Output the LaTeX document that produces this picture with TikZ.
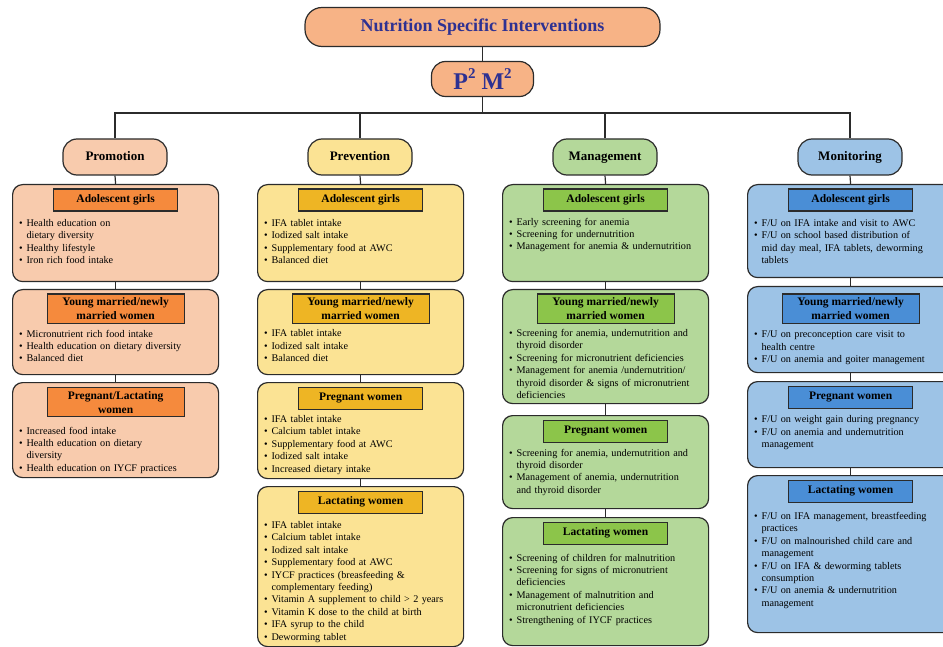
\documentclass[tikz,border=0pt]{standalone}
\usepackage{fontspec}
\setmainfont{Liberation Serif}
\usetikzlibrary{positioning,calc}

\definecolor{titlefill}{HTML}{F7B386}
\definecolor{titleblue}{HTML}{2E3192}
\definecolor{promfill}{HTML}{F8CBAD}
\definecolor{promhead}{HTML}{F58A3D}
\definecolor{prevfill}{HTML}{FBE394}
\definecolor{prevhead}{HTML}{EEB524}
\definecolor{mgmtfill}{HTML}{B4D89A}
\definecolor{mgmthead}{HTML}{8CC54A}
\definecolor{monfill}{HTML}{9DC3E6}
\definecolor{monhead}{HTML}{4A8ED6}
\definecolor{edge}{HTML}{2B2B2B}

% bullet item with hanging indent
\newcommand{\itm}[1]{\noindent\hangindent=7.5pt\hangafter=1\hbox to 7.5pt{\textbullet\hfil}#1\par}

\begin{document}
\begin{tikzpicture}[x=1pt, y=-1pt,
  conn/.style={draw=edge, line width=1.2pt},
  titlebox/.style={draw=edge, line width=1.2pt, fill=titlefill, text=titleblue, rounded corners=17pt},
  catbox/.style={draw=edge, line width=1.2pt, fill=#1, rounded corners=14pt, minimum width=104pt, minimum height=36pt, text height=9.5pt, text depth=2.5pt, font=\fontsize{13}{15}\selectfont\bfseries},
  panel/.style={draw=edge, line width=1.2pt, fill=#1, rounded corners=10pt, anchor=north west, minimum width=206pt, inner sep=0pt},
  hdr/.style={draw=edge, line width=1.2pt, fill=#1, minimum width=124pt, minimum height=22pt, inner sep=1pt, align=center, font=\fontsize{11.5}{14}\selectfont\bfseries},
  hdrtwo/.style={hdr=#1, minimum width=137pt, minimum height=29pt},
  body/.style={text width=193pt, inner sep=0pt, align=left, font=\fontsize{10.2}{12.4}\selectfont}
]
\useasboundingbox (0,0) rectangle (943,647);

% ================= TOP =================
\node[titlebox, minimum width=355pt, minimum height=39pt, font=\fontsize{18}{20}\selectfont\bfseries] (title) at (482.5,27) {Nutrition Specific Interventions};
\node[titlebox, rounded corners=14pt, minimum width=102pt, minimum height=35pt, font=\fontsize{24}{26}\selectfont\bfseries] (pm) at (482.5,79)
  {P\raisebox{0.42em}{\fontsize{15}{15}\selectfont 2} M\raisebox{0.42em}{\fontsize{15}{15}\selectfont 2}};
\coordinate (bus) at (482.5,113);

\node[catbox=promfill] (prom) at (115,157) {Promotion};
\node[catbox=prevfill] (prev) at (360,157) {Prevention};
\node[catbox=mgmtfill] (mgmt) at (605,157) {Management};
\node[catbox=monfill]  (mon)  at (850,157) {Monitoring};

\draw[conn] (title.south) -- (pm.north);
\draw[conn] (pm.south) -- (bus);
\foreach \c in {prom,prev,mgmt,mon}
  \draw[conn] (bus) -| (\c.north);

% ================= PROMOTION =================
\node[panel=promfill, minimum height=97pt] (proA) at (12,184) {};
\node[hdr=promhead, below=4.5pt of proA.north] (proAh) {Adolescent girls};
\node[body, below=7.5pt of proAh] (proAb) {\itm{Health education on\newline dietary diversity}\itm{Healthy lifestyle}\itm{Iron rich food intake}};

\node[panel=promfill, minimum height=85pt] (proB) at (12,289) {};
\node[hdrtwo=promhead, below=4.5pt of proB.north] (proBh) {Young married/newly\\married women};
\node[body, below=6pt of proBh] (proBb) {\itm{Micronutrient rich food intake}\itm{Health education on dietary diversity}\itm{Balanced diet}};

\node[panel=promfill, minimum height=95pt] (proC) at (12,382) {};
\node[hdrtwo=promhead, below=5pt of proC.north] (proCh) {Pregnant/Lactating\\women};
\node[body, below=9.5pt of proCh] (proCb) {\itm{Increased food intake}\itm{Health education on dietary\newline diversity}\itm{Health education on IYCF practices}};

\draw[conn] (prom.south) -- (proA.north);
\draw[conn] (proA.south) -- (proB.north);
\draw[conn] (proB.south) -- (proC.north);

% ================= PREVENTION =================
\node[panel=prevfill, minimum height=97pt] (preA) at (257,184) {};
\node[hdr=prevhead, below=4.5pt of preA.north] (preAh) {Adolescent girls};
\node[body, below=7.5pt of preAh] (preAb) {\itm{IFA tablet intake}\itm{Iodized salt intake}\itm{Supplementary food at AWC}\itm{Balanced diet}};

\node[panel=prevfill, minimum height=85pt] (preB) at (257,289) {};
\node[hdrtwo=prevhead, below=4.5pt of preB.north] (preBh) {Young married/newly\\married women};
\node[body, below=6pt of preBh] (preBb) {\itm{IFA tablet intake}\itm{Iodized salt intake}\itm{Balanced diet}};

\node[panel=prevfill, minimum height=96pt] (preC) at (257,382) {};
\node[hdr=prevhead, below=4.5pt of preC.north] (preCh) {Pregnant women};
\node[body, below=5.5pt of preCh] (preCb) {\itm{IFA tablet intake}\itm{Calcium tablet intake}\itm{Supplementary food at AWC}\itm{Iodized salt intake}\itm{Increased dietary intake}};

\node[panel=prevfill, minimum height=160pt] (preD) at (257,486) {};
\node[hdr=prevhead, below=4.5pt of preD.north] (preDh) {Lactating women};
\node[body, below=7.5pt of preDh] (preDb) {\itm{IFA tablet intake}\itm{Calcium tablet intake}\itm{Iodized salt intake}\itm{Supplementary food at AWC}\itm{IYCF practices (breasfeeding \&\newline complementary feeding)}\itm{Vitamin A supplement to child > 2 years}\itm{Vitamin K dose to the child at birth}\itm{IFA syrup to the child}\itm{Deworming tablet}};

\draw[conn] (prev.south) -- (preA.north);
\draw[conn] (preA.south) -- (preB.north);
\draw[conn] (preB.south) -- (preC.north);
\draw[conn] (preC.south) -- (preD.north);

% ================= MANAGEMENT =================
\node[panel=mgmtfill, minimum height=97pt] (manA) at (502,184) {};
\node[hdr=mgmthead, below=4.5pt of manA.north] (manAh) {Adolescent girls};
\node[body, below=6pt of manAh] (manAb) {\itm{Early screening for anemia}\itm{Screening for undernutrition}\itm{Management for anemia \& undernutrition}};

\node[panel=mgmtfill, minimum height=114pt] (manB) at (502,289) {};
\node[hdrtwo=mgmthead, below=4.5pt of manB.north] (manBh) {Young married/newly\\married women};
\node[body, below=5.5pt of manBh] (manBb) {\itm{Screening for anemia, undernutrition and\newline thyroid disorder}\itm{Screening for micronutrient deficiencies}\itm{Management for anemia /undernutrition/\newline thyroid disorder \& signs of micronutrient\newline deficiencies}};

\node[panel=mgmtfill, minimum height=93pt] (manC) at (502,415) {};
\node[hdr=mgmthead, below=4.5pt of manC.north] (manCh) {Pregnant women};
\node[body, below=6pt of manCh] (manCb) {\itm{Screening for anemia, undernutrition and\newline thyroid disorder}\itm{Management of anemia, undernutrition\newline and thyroid disorder}};

\node[panel=mgmtfill, minimum height=128pt] (manD) at (502,517) {};
\node[hdr=mgmthead, below=4.5pt of manD.north] (manDh) {Lactating women};
\node[body, below=9pt of manDh] (manDb) {\itm{Screening of children for malnutrition}\itm{Screening for signs of micronutrient\newline deficiencies}\itm{Management of malnutrition and\newline micronutrient deficiencies}\itm{Strengthening of IYCF practices}};

\draw[conn] (mgmt.south) -- (manA.north);
\draw[conn] (manA.south) -- (manB.north);
\draw[conn] (manB.south) -- (manC.north);
\draw[conn] (manC.south) -- (manD.north);

% ================= MONITORING =================
\node[panel=monfill, minimum height=93pt] (monA) at (747,184) {};
\node[hdr=monhead, below=4.5pt of monA.north] (monAh) {Adolescent girls};
\node[body, below=7.5pt of monAh] (monAb) {\itm{F/U on IFA intake and visit to AWC}\itm{F/U on school based distribution of\newline mid day meal, IFA tablets, deworming\newline tablets}};

\node[panel=monfill, minimum height=86pt] (monB) at (747,286) {};
\node[hdrtwo=monhead, below=7.5pt of monB.north] (monBh) {Young married/newly\\married women};
\node[body, below=7pt of monBh] (monBb) {\itm{F/U on preconception care visit to\newline health centre}\itm{F/U on anemia and goiter management}};

\node[panel=monfill, minimum height=86pt] (monC) at (747,381) {};
\node[hdr=monhead, below=4.5pt of monC.north] (monCh) {Pregnant women};
\node[body, below=7pt of monCh] (monCb) {\itm{F/U on weight gain during pregnancy}\itm{F/U on anemia and undernutrition\newline management}};

\node[panel=monfill, minimum height=157pt] (monD) at (747,475) {};
\node[hdr=monhead, below=4.5pt of monD.north] (monDh) {Lactating women};
\node[body, below=9.5pt of monDh] (monDb) {\itm{F/U on IFA management, breastfeeding\newline practices}\itm{F/U on malnourished child care and\newline management}\itm{F/U on IFA \& deworming tablets\newline consumption}\itm{F/U on anemia \& undernutrition\newline management}};

\draw[conn] (mon.south) -- (monA.north);
\draw[conn] (monA.south) -- (monB.north);
\draw[conn] (monB.south) -- (monC.north);
\draw[conn] (monC.south) -- (monD.north);

\end{tikzpicture}
\end{document}
